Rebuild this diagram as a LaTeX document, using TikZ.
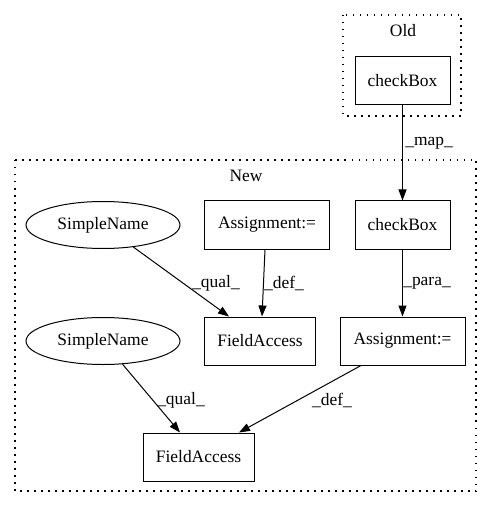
\documentclass[tikz,border=0pt]{standalone}
\usepackage{fontspec}
\setmainfont{Liberation Serif}
\usetikzlibrary{arrows.meta,shapes.geometric}
\begin{document}
\begin{tikzpicture}[x=1bp,y=-1bp,
  every node/.style={font=\fontsize{17.5}{20}\selectfont},
  box/.style={draw,line width=1bp,rectangle,inner sep=0pt,minimum height=48bp},
  oval/.style={draw,line width=1bp,ellipse,inner sep=0pt,minimum width=154bp,minimum height=47bp},
  cluster/.style={draw,line width=1.2bp,dash pattern=on 1.5bp off 5.5bp},
  edge/.style={line width=1bp,-{Triangle[length=11bp,width=8bp]}},
  lbl/.style={inner sep=0pt,anchor=center}]
\useasboundingbox (0,0) rectangle (492,508);
% clusters
\draw[cluster] (343,15) rectangle (461,116);
\node[lbl] (oldlbl) at (403,31) {Old};
\draw[cluster] (15,160) rectangle (476,491);
\node[lbl] (newlbl) at (246,176) {New};
% nodes
\node[box,minimum width=95bp] (cbold) at (402.5,81) {checkBox};
\node[box,minimum width=95bp] (cbnew) at (402.5,225) {checkBox};
\node[box,minimum width=125bp] (asg1) at (267,225) {Assignment:=};
\node[oval] (sn1) at (103,225) {SimpleName};
\node[box,minimum width=111bp] (fa1) at (260,341) {FieldAccess};
\node[box,minimum width=125bp] (asg2) at (402.5,341) {Assignment:=};
\node[oval] (sn2) at (103,341) {SimpleName};
\node[box,minimum width=111bp] (fa2) at (198.5,457) {FieldAccess};
% edges
\draw[edge] (cbold) -- (cbnew);
\node[lbl] (lmap) at (429,143) {\_map\_};
\draw[edge] (sn1) -- (fa1.north west -| 229,0);
\node[lbl] (lq1) at (216,283) {\_qual\_};
\draw[edge] (asg1.south -| 265,0) -- (fa1.north -| 262,0);
\node[lbl] (ld1) at (284,283) {\_def\_};
\draw[edge] (cbnew) -- (asg2.north -| cbnew.south);
\node[lbl] (lpara) at (427,283) {\_para\_};
\draw[edge] (sn2) -- (fa2.north -| 180,0);
\node[lbl] (lq2) at (181,400) {\_qual\_};
\draw[edge] (asg2.south -| 361,0) -- (fa2.north -| 239,0);
\node[lbl] (ld2) at (332,400) {\_def\_};
\end{tikzpicture}
\end{document}
